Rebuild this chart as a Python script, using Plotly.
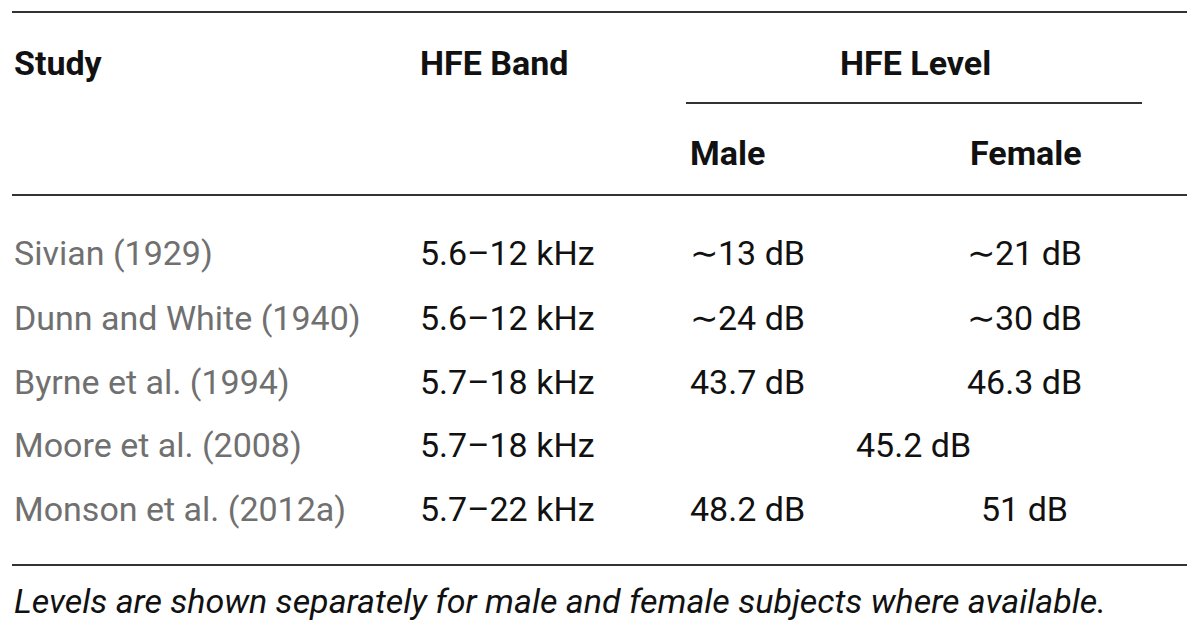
import plotly.graph_objects as go

studies = [
    "Sivian (1929)",
    "Dunn and White (1940)",
    "Byrne et al. (1994)",
    "Moore et al. (2008)",
    "Monson et al. (2012a)",
]
bands = ["5.6–12 kHz", "5.6–12 kHz", "5.7–18 kHz", "5.7–18 kHz", "5.7–22 kHz"]
male = ["∼13 dB", "∼24 dB", "43.7 dB", None, "48.2 dB"]
female = ["∼21 dB", "∼30 dB", "46.3 dB", None, "51 dB"]
combined = [None, None, None, "45.2 dB", None]
footnote = "Levels are shown separately for male and female subjects where available."

FONT = "Roboto, Arial, sans-serif"
SIZE = 34
row_y = [253, 318, 382, 445, 509]

fig = go.Figure()
fig.add_trace(go.Scatter(x=[0], y=[0], mode="markers", marker=dict(opacity=0),
                         hoverinfo="skip", showlegend=False))


def txt(x, y, s, anchor="left", color="#111", bold=False, italic=False, size=SIZE):
    if bold:
        s = "<b>" + s + "</b>"
    if italic:
        s = "<i>" + s + "</i>"
    fig.add_annotation(x=x, y=y, text=s, showarrow=False, xanchor=anchor,
                       yanchor="middle", font=dict(family=FONT, size=size, color=color))


# header
txt(12, 63, "Study", bold=True)
txt(418, 63, "HFE Band", bold=True)
txt(915, 63, "HFE Level", anchor="center", bold=True)
txt(688, 153, "Male", bold=True)
txt(1026, 153, "Female", anchor="center", bold=True)

for i, y in enumerate(row_y):
    txt(12, y, studies[i], color="#707070")
    txt(418, y, bands[i])
    if male[i]:
        txt(688, y, male[i])
    if female[i]:
        txt(1024, y, female[i], anchor="center")
    if combined[i]:
        txt(913, y, combined[i], anchor="center")

txt(12, 601, footnote, italic=True)

line = dict(color="#333333", width=2)
for y0 in [12, 195, 565]:
    fig.add_shape(type="line", x0=12, x1=1187, y0=y0, y1=y0, line=line)
fig.add_shape(type="line", x0=686, x1=1142, y0=103, y1=103, line=line)

fig.update_layout(
    width=1200, height=638,
    margin=dict(l=0, r=0, t=0, b=0),
    paper_bgcolor="white", plot_bgcolor="white",
    xaxis=dict(range=[0, 1200], visible=False, fixedrange=True),
    yaxis=dict(range=[638, 0], visible=False, fixedrange=True),
)
fig.write_html("out.html", config={"displayModeBar": False},
               post_script="document.body.style.margin='0px';")
